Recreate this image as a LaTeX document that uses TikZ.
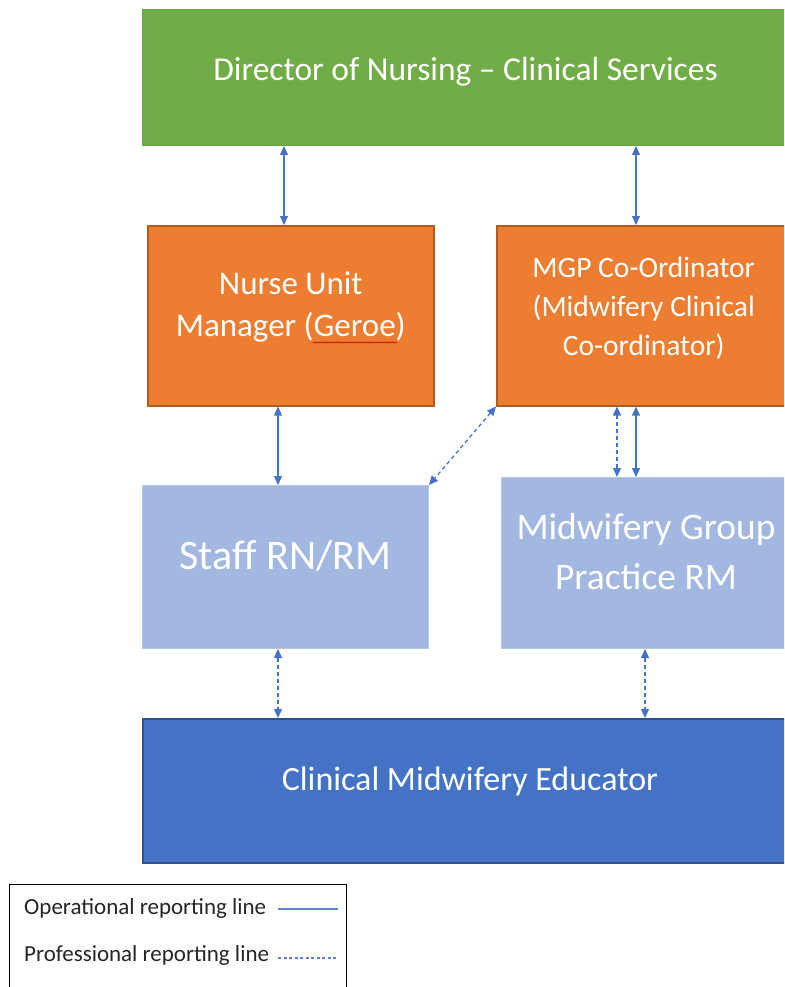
\documentclass[tikz,border=0pt]{standalone}
\usepackage{fontspec}
\setmainfont{Carlito}
\usetikzlibrary{arrows.meta}
\definecolor{gfill}{HTML}{70AD47}
\definecolor{gdraw}{HTML}{6AA343}
\definecolor{ofill}{HTML}{ED7D31}
\definecolor{odraw}{HTML}{AE5A21}
\definecolor{lbfill}{HTML}{A2B8E0}
\definecolor{lbdraw}{HTML}{B4C7E7}
\definecolor{bfill}{HTML}{4472C4}
\definecolor{bdraw}{HTML}{2F528F}
\definecolor{arr}{HTML}{4472C4}
\definecolor{legline}{HTML}{5B84CC}
\tikzset{
  box/.style={rectangle, anchor=north west, inner sep=0pt},
  txt/.style={inner sep=0pt, align=center, text=white},
  op/.style={draw=arr, line width=1.2pt, {Triangle[length=9pt,width=8pt]}-{Triangle[length=9pt,width=8pt]}},
  prof/.style={op, dash pattern=on 4pt off 3pt},
  legop/.style={draw=legline, line width=1.3pt},
  legprof/.style={legop, dash pattern=on 3pt off 2.5pt},
}
\begin{document}
\begin{tikzpicture}[x=1pt,y=1pt]
\useasboundingbox (0,0) rectangle (784,-987);
\clip (0,0) rectangle (784,-987);
\fill[white] (0,0) rectangle (784,-987);
% boxes
\node[box, fill=gfill, draw=gdraw, line width=1pt, minimum width=648pt, minimum height=136pt] (dir) at (142,-9) {};
\node[box, fill=ofill, draw=odraw, line width=1.5pt, minimum width=286pt, minimum height=180pt] (num) at (147,-225) {};
\node[box, fill=ofill, draw=odraw, line width=1.5pt, minimum width=294pt, minimum height=180pt] (mgp) at (496,-225) {};
\node[box, fill=lbfill, draw=lbdraw, line width=1pt, minimum width=286pt, minimum height=163pt] (staff) at (142,-485) {};
\node[box, fill=lbfill, draw=lbdraw, line width=1pt, minimum width=289pt, minimum height=171pt] (mgprm) at (501,-477) {};
\node[box, fill=bfill, draw=bdraw, line width=2pt, minimum width=648pt, minimum height=144pt] (cme) at (142,-718) {};
% texts
\node[txt, font=\fontsize{33.5}{40}\selectfont] (tdir) at ([xshift=-1pt,yshift=6pt]dir.center) {Director of Nursing – Clinical Services};
\node[txt, font=\fontsize{33}{42}\selectfont] (tnum) at ([yshift=9pt]num.center) {Nurse Unit\\Manager (Geroe)};
\node[txt, font=\fontsize{29.5}{39}\selectfont] (tmgp) at ([yshift=7pt]mgp.center) {MGP Co-Ordinator\\(Midwifery Clinical\\Co-ordinator)};
\node[txt, font=\fontsize{42}{50}\selectfont] (tstaff) at ([yshift=11pt]staff.center) {Staff RN/RM};
\node[txt, font=\fontsize{37.5}{50}\selectfont] (tmgprm) at ([yshift=11pt]mgprm.center) {Midwifery Group\\Practice RM};
\node[txt, font=\fontsize{34}{40}\selectfont] (tcme) at ([xshift=3pt,yshift=10pt]cme.center) {Clinical Midwifery Educator};
% squiggle under Geroe
\coordinate (sq) at (313,-343);
\draw[red!85!black, line width=0.7pt, line join=round] (sq) \foreach \i in {1,...,30} { -- ++(1.4,1.1) -- ++(1.4,-1.1)};
% connectors
\draw[op] (dir.south -| 284,0) -- (num.north -| 284,0);
\draw[op] (dir.south -| 636,0) -- (mgp.north -| 636,0);
\draw[op] (num.south -| 278,0) -- (staff.north -| 278,0);
\draw[prof] (mgp.south west) -- (staff.north east);
\draw[prof] (mgp.south -| 617,0) -- (mgprm.north -| 617,0);
\draw[op] (mgp.south -| 636,0) -- (mgprm.north -| 636,0);
\draw[prof] (staff.south -| 278,0) -- (cme.north -| 278,0);
\draw[prof] (mgprm.south -| 645,0) -- (cme.north -| 645,0);
% legend
\node[draw=black, line width=1pt, rectangle, anchor=north west, minimum width=337pt, minimum height=110pt, inner sep=0pt] (leg) at (9,-884) {};
\node[anchor=west, inner sep=0pt, font=\fontsize{23}{26}\selectfont, text=black!85] (l1) at (24,-908) {Operational reporting line};
\node[anchor=west, inner sep=0pt, font=\fontsize{23}{26}\selectfont, text=black!85] (l2) at (24,-955) {Professional reporting line};
\coordinate (l1s) at (278,-909);
\coordinate (l1e) at (338,-909);
\coordinate (l2s) at (278,-958);
\coordinate (l2e) at (338,-958);
\draw[legop] (l1s) -- (l1e);
\draw[legprof] (l2s) -- (l2e);
\end{tikzpicture}
\end{document}
